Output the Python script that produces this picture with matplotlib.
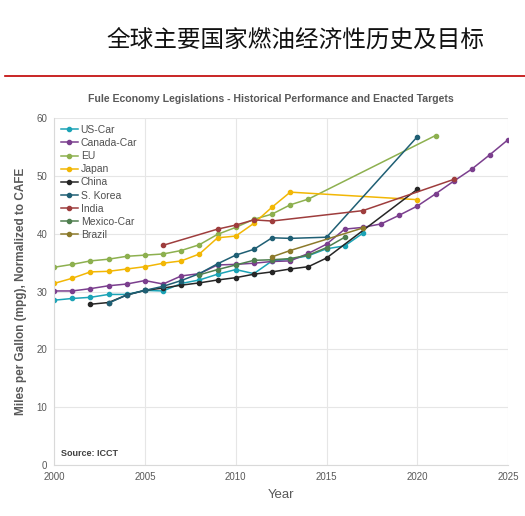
import matplotlib
matplotlib.use("Agg")
import matplotlib.pyplot as plt

plt.rcParams['font.family'] = ['Liberation Sans', 'DejaVu Sans']

# Data
us_years = [2000, 2001, 2002, 2003, 2004, 2005, 2006, 2007, 2008, 2009, 2010, 2011, 2012, 2013, 2014, 2015, 2016, 2017]
us_mpg = [28.5, 28.8, 29.0, 29.5, 29.5, 30.2, 30.1, 31.4, 32.0, 33.0, 33.8, 33.1, 35.3, 35.6, 36.2, 37.4, 37.9, 40.1]

canada_years = list(range(2000, 2026))
canada_mpg = [30.1, 30.1, 30.5, 31.0, 31.3, 31.9, 31.3, 32.7, 33.1, 34.6, 34.7, 34.9, 35.2, 35.3, 36.6, 38.2,
              40.8, 41.1, 41.7, 43.2, 44.8, 46.9, 49.1, 51.2, 53.7, 56.3]

eu_years = [2000, 2001, 2002, 2003, 2004, 2005, 2006, 2007, 2008, 2009, 2010, 2011, 2012, 2013, 2014, 2021]
eu_mpg = [34.2, 34.7, 35.3, 35.6, 36.1, 36.3, 36.5, 37.1, 38.1, 39.9, 41.1, 42.5, 43.4, 45.0, 46.0, 57.0]

japan_years = [2000, 2001, 2002, 2003, 2004, 2005, 2006, 2007, 2008, 2009, 2010, 2011, 2012, 2013, 2020]
japan_mpg = [31.4, 32.3, 33.4, 33.5, 33.9, 34.3, 34.9, 35.3, 36.5, 39.3, 39.6, 41.8, 44.6, 47.2, 45.9]

china_years = [2002, 2003, 2004, 2005, 2006, 2007, 2008, 2009, 2010, 2011, 2012, 2013, 2014, 2015, 2020]
china_mpg = [27.8, 28.1, 29.4, 30.2, 30.6, 31.1, 31.5, 32.0, 32.4, 33.0, 33.4, 33.9, 34.3, 35.8, 47.7]

korea_years = [2003, 2004, 2005, 2006, 2007, 2008, 2009, 2010, 2011, 2012, 2013, 2015, 2020]
korea_mpg = [28.0, 29.4, 30.2, 30.9, 31.9, 33.1, 34.8, 36.3, 37.3, 39.3, 39.2, 39.4, 56.8]

india_years = [2006, 2009, 2010, 2011, 2012, 2017, 2022]
india_mpg = [38.0, 40.8, 41.5, 42.4, 42.2, 44.0, 49.4]

mexico_years = [2008, 2009, 2010, 2011, 2012, 2013, 2014, 2015, 2016]
mexico_mpg = [32.9, 33.8, 34.6, 35.4, 35.5, 35.7, 36.3, 37.6, 39.4]

brazil_years = [2012, 2013, 2017]
brazil_mpg = [36.0, 37.1, 41.0]

series = [
    ('US-Car', us_years, us_mpg, '#1BA3B6'),
    ('Canada-Car', canada_years, canada_mpg, '#7B3F8E'),
    ('EU', eu_years, eu_mpg, '#8DB04F'),
    ('Japan', japan_years, japan_mpg, '#F2B705'),
    ('China', china_years, china_mpg, '#262626'),
    ('S. Korea', korea_years, korea_mpg, '#1F5F74'),
    ('India', india_years, india_mpg, '#9E3D3D'),
    ('Mexico-Car', mexico_years, mexico_mpg, '#4F7F4F'),
    ('Brazil', brazil_years, brazil_mpg, '#8C7A2B'),
]

fig = plt.figure(figsize=(5.25, 5.16), dpi=100)
ax = fig.add_axes([0.103, 0.099, 0.865, 0.672])

for name, xs, ys, col in series:
    ax.plot(xs, ys, color=col, lw=1.1, marker='o', ms=3, label=name)

ax.set_xlim(2000, 2025)
ax.set_ylim(0, 60)
ax.set_xticks(range(2000, 2026, 5))
ax.set_yticks(range(0, 61, 10))
ax.grid(color='#e6e6e6', lw=0.8)
ax.set_axisbelow(True)
ax.tick_params(length=0, labelsize=7, labelcolor='#595959', pad=5)
for s in ['top', 'right']:
    ax.spines[s].set_visible(False)
for s in ['left', 'bottom']:
    ax.spines[s].set_color('#d9d9d9')

ax.set_xlabel('Year', fontsize=9.5, color='#595959', labelpad=5)
ax.set_ylabel('Miles per Gallon (mpg), Normalized to CAFE', fontsize=8.5, fontweight='bold',
              color='#595959', labelpad=7)

leg = ax.legend(loc='upper left', frameon=False, fontsize=7.5, handlelength=1.6,
                handletextpad=0.3, labelspacing=0.3, borderaxespad=0.25)
for t in leg.get_texts():
    t.set_color('#505050')

ax.text(0.015, 0.025, 'Source: ICCT', transform=ax.transAxes, fontsize=6.5,
        fontweight='bold', color='#404040')

fig.text(0.516, 0.803, 'Fule Economy Legislations - Historical Performance and Enacted Targets',
         ha='center', fontsize=7.6, fontweight='bold', color='#595959')

fig.text(0.562, 0.92, '全球主要国家燃油经济性历史及目标', ha='center', va='center',
         fontsize=17, family=['Noto Sans CJK SC', 'DejaVu Sans'], color='#111111')

fig.add_artist(plt.Line2D([0.01, 1.0], [0.853, 0.853], color='#C00000', lw=1.2))

fig.savefig('out.png', dpi=100)
